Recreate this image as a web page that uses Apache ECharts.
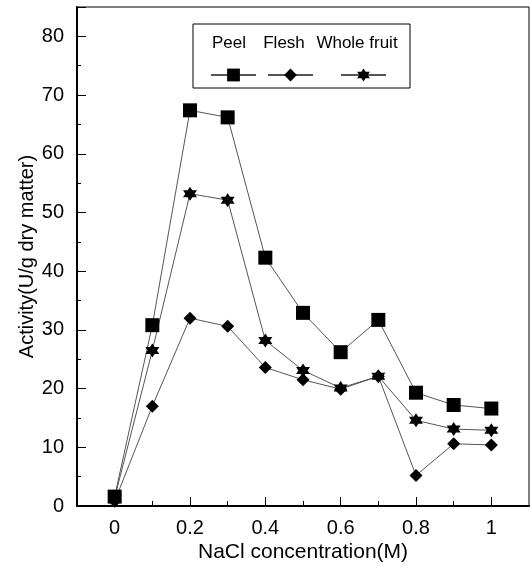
<!DOCTYPE html>
<html>
<head>
<meta charset="utf-8">
<script src="https://cdn.jsdelivr.net/npm/echarts@6/dist/echarts.min.js"></script>
<style>
  html, body { margin: 0; padding: 0; background: #fff; }
  #chart { width: 530px; height: 568px; }
</style>
</head>
<body>
<div id="chart"></div>
<script>
// NaCl concentration (M)
var nacl = [0, 0.1, 0.2, 0.3, 0.4, 0.5, 0.6, 0.7, 0.8, 0.9, 1.0]
// activity (U/g dry matter)
var peel = [1.6, 30.8, 67.4, 66.2, 42.3, 32.9, 26.2, 31.7, 19.3, 17.2, 16.6]
var flesh = [0.8, 17.0, 32.0, 30.6, 23.6, 21.5, 19.9, 22.1, 5.2, 10.6, 10.4]
var wholeFruit = [1.4, 26.5, 53.2, 52.1, 28.2, 23.1, 20.1, 22.1, 14.6, 13.1, 12.9]

var xLabelValues = [0, 0.2, 0.4, 0.6, 0.8, 1]
var xMinorTicks = [0.1, 0.3, 0.5, 0.7, 0.9]
var seriesNames = ['Peel', 'Flesh', 'Whole fruit']

var font = 'Liberation Sans, Arial, sans-serif'
var starPath = 'path://M10 0 L12.887 5 L18.66 5 L15.77 10 L18.66 15 L12.887 15 L10 20 L7.113 15 L1.34 15 L4.23 10 L1.34 5 L7.113 5 Z'

function pairs(ys) {
  return nacl.map(function (x, i) { return [x, ys[i]] })
}

var myChart = echarts.init(document.getElementById('chart'))

var lineSeries = function (name, ys, symbol, size) {
  return {
    name: name,
    type: 'line',
    data: pairs(ys),
    symbol: symbol,
    symbolSize: size,
    itemStyle: { color: '#000' },
    lineStyle: { color: '#555', width: 1 },
    z: 3
  }
}

var legendBase = function (name, left) {
  return {
    data: [name],
    left: left,
    top: 62,
    itemWidth: 45,
    itemHeight: 16,
    itemGap: 0,
    formatter: function () { return '' },
    textStyle: { fontSize: 1 },
    selectedMode: false
  }
}

var option = {
  animation: false,
  backgroundColor: '#fff',
  grid: {
    left: 77,
    right: 1,
    top: 7,
    bottom: 59,
    show: true,
    borderColor: '#000',
    borderWidth: 1
  },
  legend: [
    legendBase('Peel', 205),
    legendBase('Flesh', 262),
    legendBase('Whole fruit', 335)
  ],
  graphic: [
    {
      type: 'rect',
      shape: { x: 193, y: 24, width: 217, height: 64 },
      style: { fill: 'none', stroke: '#000', lineWidth: 1 }
    },
    { type: 'text', x: 229, y: 43, style: { text: seriesNames[0], font: '17px ' + font, fill: '#000', align: 'center', verticalAlign: 'middle' } },
    { type: 'text', x: 284, y: 43, style: { text: seriesNames[1], font: '17px ' + font, fill: '#000', align: 'center', verticalAlign: 'middle' } },
    { type: 'text', x: 357, y: 43, style: { text: seriesNames[2], font: '17px ' + font, fill: '#000', align: 'center', verticalAlign: 'middle' } }
  ],
  xAxis: [
    {
      type: 'value',
      min: -0.1,
      max: 1.1,
      name: 'NaCl concentration(M)',
      nameLocation: 'middle',
      nameGap: 36,
      nameMoveOverlap: false,
      nameTextStyle: { color: '#000', fontSize: 21, fontFamily: font },
      axisLine: { show: true, onZero: false, lineStyle: { color: '#000', width: 2 } },
      axisTick: { show: true, inside: true, length: 9, customValues: xLabelValues, lineStyle: { color: '#000' } },
      axisLabel: { customValues: xLabelValues, color: '#000', fontSize: 20, fontFamily: font, margin: 12 },
      splitLine: { show: false }
    },
    {
      type: 'value',
      min: -0.1,
      max: 1.1,
      position: 'bottom',
      axisLine: { show: false, onZero: false },
      axisTick: { show: true, inside: true, length: 5, customValues: xMinorTicks, lineStyle: { color: '#000' } },
      axisLabel: { show: false },
      splitLine: { show: false }
    }
  ],
  yAxis: {
    type: 'value',
    min: 0,
    max: 85,
    interval: 10,
    name: 'Activity(U/g dry matter)',
    nameLocation: 'middle',
    nameGap: 40,
    nameMoveOverlap: false,
    nameTextStyle: { color: '#000', fontSize: 20, fontFamily: font },
    axisLine: { show: true, onZero: false, lineStyle: { color: '#000', width: 2 } },
    axisTick: { show: true, inside: true, length: 9, lineStyle: { color: '#000' } },
    minorTick: { show: true, splitNumber: 2, length: 4, lineStyle: { color: '#000' } },
    axisLabel: { color: '#000', fontSize: 20, fontFamily: font, margin: 13, showMaxLabel: false },
    splitLine: { show: false }
  },
  series: [
    lineSeries(seriesNames[0], peel, 'rect', 14),
    lineSeries(seriesNames[1], flesh, 'diamond', 13),
    lineSeries(seriesNames[2], wholeFruit, starPath, 14)
  ]
}

myChart.setOption(option)
</script>
</body>
</html>
